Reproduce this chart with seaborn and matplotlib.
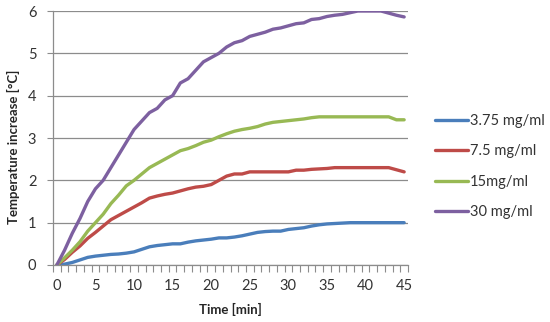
import numpy as np
import pandas as pd
import matplotlib
matplotlib.use("Agg")
import matplotlib.pyplot as plt
import seaborn as sns

# Dados (incremento de temperatura por minuto)
time_min = list(range(0, 46))

conc_3_75 = [0, 0.02, 0.06, 0.12, 0.18, 0.21, 0.23, 0.25, 0.26, 0.28,
             0.31, 0.37, 0.43, 0.46, 0.48, 0.50, 0.50, 0.54, 0.57, 0.59,
             0.61, 0.64, 0.64, 0.66, 0.69, 0.73, 0.77, 0.79, 0.80, 0.80,
             0.84, 0.86, 0.88, 0.92, 0.95, 0.97, 0.98, 0.99, 1.0, 1.0,
             1.0, 1.0, 1.0, 1.0, 1.0, 1.0]
conc_7_5 = [0, 0.13, 0.30, 0.45, 0.63, 0.77, 0.92, 1.07, 1.17, 1.27,
            1.37, 1.47, 1.58, 1.63, 1.67, 1.70, 1.75, 1.80, 1.84, 1.86,
            1.90, 2.00, 2.10, 2.15, 2.15, 2.20, 2.20, 2.20, 2.20, 2.20,
            2.20, 2.24, 2.24, 2.26, 2.27, 2.28, 2.30, 2.30, 2.30, 2.30,
            2.30, 2.30, 2.30, 2.30, 2.25, 2.20]
conc_15 = [0, 0.17, 0.35, 0.55, 0.80, 1.00, 1.20, 1.45, 1.65, 1.87,
           2.00, 2.15, 2.30, 2.40, 2.50, 2.60, 2.70, 2.75, 2.82, 2.90,
           2.95, 3.03, 3.10, 3.16, 3.20, 3.23, 3.27, 3.33, 3.37, 3.39,
           3.41, 3.43, 3.45, 3.48, 3.50, 3.50, 3.50, 3.50, 3.50, 3.50,
           3.50, 3.50, 3.50, 3.50, 3.43, 3.43]
conc_30 = [0, 0.35, 0.75, 1.10, 1.50, 1.80, 2.00, 2.30, 2.60, 2.90,
           3.20, 3.40, 3.60, 3.70, 3.90, 4.00, 4.30, 4.40, 4.60, 4.80,
           4.90, 5.00, 5.15, 5.25, 5.30, 5.40, 5.45, 5.50, 5.57, 5.60,
           5.65, 5.70, 5.72, 5.80, 5.82, 5.87, 5.90, 5.92, 5.96, 6.00,
           6.00, 6.00, 6.00, 5.95, 5.90, 5.86]

labels = ["3.75 mg/ml", "7.5 mg/ml", "15mg/ml", "30 mg/ml"]
colors = ["#4A7EBB", "#BE4B48", "#98B954", "#7D60A0"]

df = pd.DataFrame({
    "time": time_min * 4,
    "value": conc_3_75 + conc_7_5 + conc_15 + conc_30,
    "series": np.repeat(labels, len(time_min)),
})

sns.set_style("white")
plt.rcParams["font.family"] = ["Lato", "DejaVu Sans"]

fig = plt.figure(figsize=(5.5, 3.22), dpi=100)
ax = fig.add_axes([53 / 550, 1 - 265 / 322, (408 - 53) / 550, (265 - 11) / 322])

sns.lineplot(data=df, x="time", y="value", hue="series", hue_order=labels,
             palette=colors, linewidth=2.4, ax=ax, legend=False)

# Eixos no estilo Excel
ax.set_xlim(-0.5, 45.5)
ax.set_ylim(0, 6)
ax.set_yticks(range(0, 7))
ax.set_xticks(range(0, 46, 5))
ax.set_xticks(np.arange(-0.5, 46, 1), minor=True)
ax.yaxis.grid(True, color="#8C8C8C", linewidth=0.9)
ax.set_axisbelow(True)
for s in ["top", "right"]:
    ax.spines[s].set_visible(False)
for s in ["left", "bottom"]:
    ax.spines[s].set_color("#8C8C8C")
    ax.spines[s].set_linewidth(0.9)
ax.tick_params(axis="x", which="major", length=0, pad=10, labelsize=10.5, labelcolor="#333333")
ax.tick_params(axis="x", which="minor", length=5, width=0.8, color="#8C8C8C", direction="out")
ax.tick_params(axis="y", which="major", length=4, width=0.8, color="#8C8C8C", direction="out",
               pad=8, labelsize=10.5, labelcolor="#333333")
ax.tick_params(bottom=True, left=True, which="both")

ax.set_xlabel("Time [min]", fontsize=9.5, fontweight="bold", labelpad=7)
ax.set_ylabel("Temperature increase [°C]", fontsize=9.5, fontweight="bold")
ax.yaxis.set_label_coords(-0.093, 0.465)

# Legenda à direita
handles = [plt.Line2D([], [], color=c, linewidth=2.4) for c in colors]
fig.legend(handles, labels, loc="upper left", bbox_to_anchor=(435 / 550, 1 - 114 / 322),
           frameon=False, fontsize=10.5, handlelength=2.25, handletextpad=0.15,
           labelspacing=1.12, borderpad=0, borderaxespad=0, labelcolor="#333333")

fig.savefig("out.png", dpi=100)
